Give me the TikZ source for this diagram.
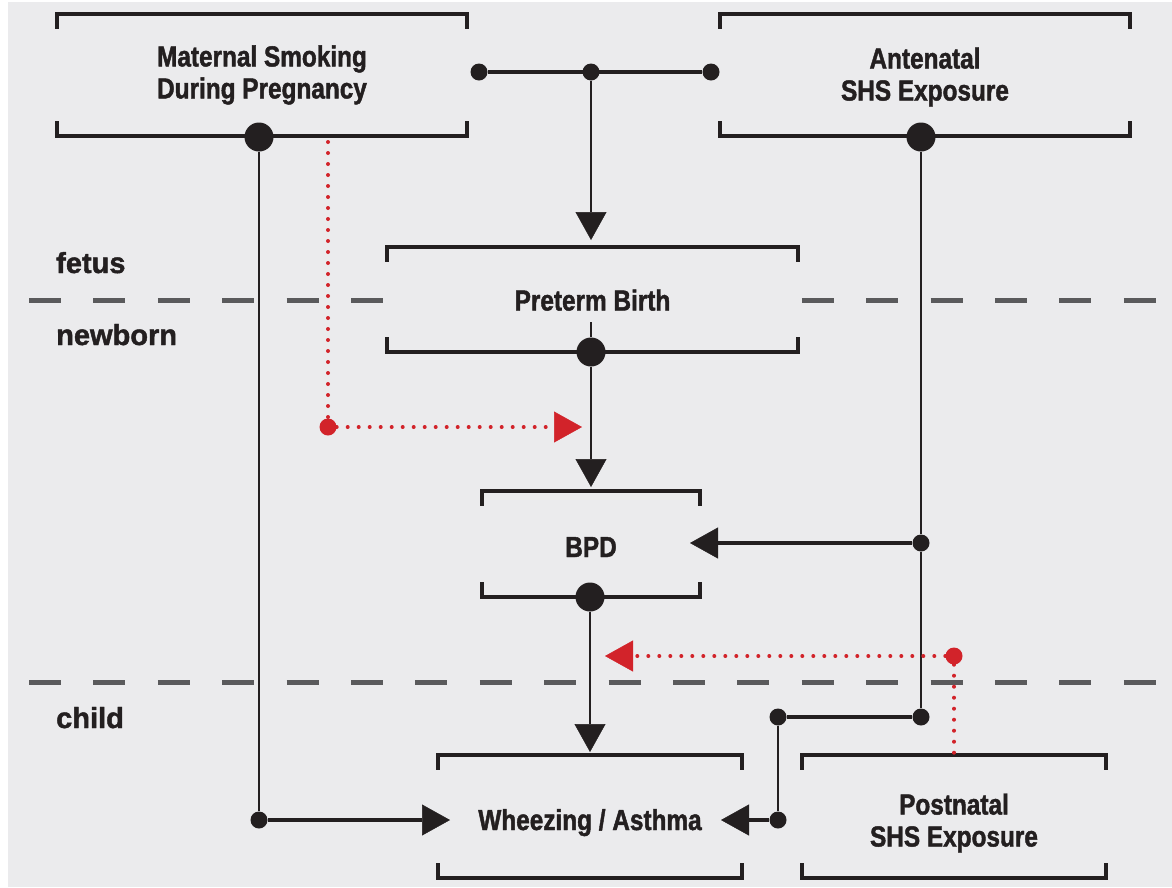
\documentclass[tikz,border=0pt]{standalone}
\usepackage{fontspec}
\setmainfont{Liberation Sans}[BoldFeatures={FakeBold=1.5}]
\newfontfamily\boxfont{Liberation Sans}[FakeStretch=0.84,BoldFeatures={FakeBold=1.5}]
\usetikzlibrary{arrows.meta}
\definecolor{panel}{HTML}{EBEBED}
\definecolor{ink}{HTML}{231F20}
\definecolor{stagegray}{HTML}{5A5A5C}
\definecolor{flagred}{HTML}{D2232A}
\tikzset{box/.style={rectangle,fill=panel,inner sep=0pt,align=center,text=ink,font=\boxfont\bfseries\fontsize{29}{32}\selectfont},
  drop/.style={text depth=0pt,text height=#1},
  stage/.style={anchor=base west,inner sep=0pt,text=ink,font=\bfseries\fontsize{29}{34}\selectfont},
  bracket/.style={draw=ink,line width=4.5pt},
  link/.style={draw=ink,line width=2.8pt},
  wide link/.style={link,line width=3.6pt},
  hint/.style={draw=flagred,line width=4pt,line cap=round,dash pattern=on 0pt off 11pt},
  dot/.style={circle,fill=ink,inner sep=0pt,minimum size=17pt},
  big dot/.style={dot,minimum size=29pt},
  red dot/.style={dot,fill=flagred},
  divider/.style={draw=stagegray,line width=5pt,dash pattern=on 32pt off 32.4pt},
  tip/.style={-{Triangle[length=28pt,width=31pt,line width=0.5pt]}},}
\newcommand{\brk}[1]{\draw[bracket] ([yshift=-15pt]#1.north west) |- (#1.north east) -- ([yshift=-15pt]#1.north east);
  \draw[bracket] ([yshift=15pt]#1.south west) |- (#1.south east) -- ([yshift=15pt]#1.south east);}
\newcommand{\lnk}[2]{\draw[link] (#1) -- (#2);}
\newcommand{\arr}[2]{\draw[link,tip] (#1) -- (#2);}
\newcommand{\hlnk}[2]{\draw[wide link] (#1) -- (#2);}
\newcommand{\harr}[2]{\draw[wide link,tip] (#1) -- (#2);}

\begin{document}
\begin{tikzpicture}[x=1pt,y=-1pt]
    \useasboundingbox (0,0) rectangle (1172,887);
    \fill[white] (0,0) rectangle (1172,887);
    \fill[panel] (8,2) rectangle (1172,887);

    \draw[divider] (29,300) -- (1160,300);
    \draw[divider] (29,682) -- (1160,682);
    \node[stage] (fetus) at (56,273) {fetus};
    \node[stage] (newborn) at (56,345) {newborn};
    \node[stage] (child) at (56,728) {child};

    \node[box,minimum width=410pt,minimum height=122pt] (ms) at (262,75) {Maternal Smoking\\During Pregnancy};
    \node[box,drop=51pt,minimum width=410pt,minimum height=122pt] (an) at (925,75) {Antenatal\\SHS Exposure};
    \node[box,drop=22pt,minimum width=411pt,minimum height=105pt] (pb) at (592.5,299.5) {Preterm Birth};
    \node[box,drop=26pt,minimum width=218pt,minimum height=106pt] (bpd) at (591,544) {BPD};
    \node[box,drop=27pt,minimum width=304pt,minimum height=123pt] (wa) at (590,816.5) {Wheezing / Asthma};
    \node[box,drop=60pt,minimum width=304pt,minimum height=123pt] (ps) at (954,816.5) {Postnatal\\SHS Exposure};
    \brk{ms}
    \brk{an}
    \brk{pb}
    \brk{bpd}
    \brk{wa}
    \brk{ps}

    \node[dot] (j1) at (479,72) {};
    \node[dot] (j2) at (591,72) {};
    \node[dot] (j3) at (711,72) {};
    \node[big dot] (msout) at (259,137) {};
    \node[big dot] (anout) at (921,137) {};
    \node[big dot] (pbout) at (591,352) {};
    \node[big dot] (bpdout) at (590,597) {};
    \node[dot] (j4) at (921,543) {};
    \node[dot] (j5) at (921,717) {};
    \node[dot] (j6) at (778,717) {};
    \node[dot] (j7) at (778,820) {};
    \node[dot] (j8) at (259,820) {};
    \node[red dot] (r1) at (328,427) {};
    \node[red dot] (r2) at (954,656) {};
    \coordinate (r0) at (328,142);
    \coordinate (pbin) at (591,240);
    \coordinate (pbtop) at (591,322);
    \coordinate (bpdin) at (591,487);
    \coordinate (bpdright) at (690,543);
    \coordinate (wain) at (590,752);
    \coordinate (waleft) at (450,820);
    \coordinate (waright) at (721,820);
    \coordinate (hint1) at (582,427);
    \coordinate (hint2) at (605,656);

    \hlnk{j1}{j3}
    \arr{j2}{pbin}
    \lnk{pbtop}{pbout}
    \arr{pbout}{bpdin}
    \arr{bpdout}{wain}
    \lnk{msout}{j8}
    \harr{j8}{waleft}
    \lnk{anout}{j4}
    \lnk{j4}{j5}
    \harr{j4}{bpdright}
    \hlnk{j5}{j6}
    \lnk{j6}{j7}
    \harr{j7}{waright}

    \draw[hint] (r0) -- (r1);
    \draw[hint,tip] (r1) -- (hint1);
    \draw[hint,tip] (r2) -- (hint2);
    \draw[hint] (r2) -- (ps.north);
\end{tikzpicture}
\end{document}
